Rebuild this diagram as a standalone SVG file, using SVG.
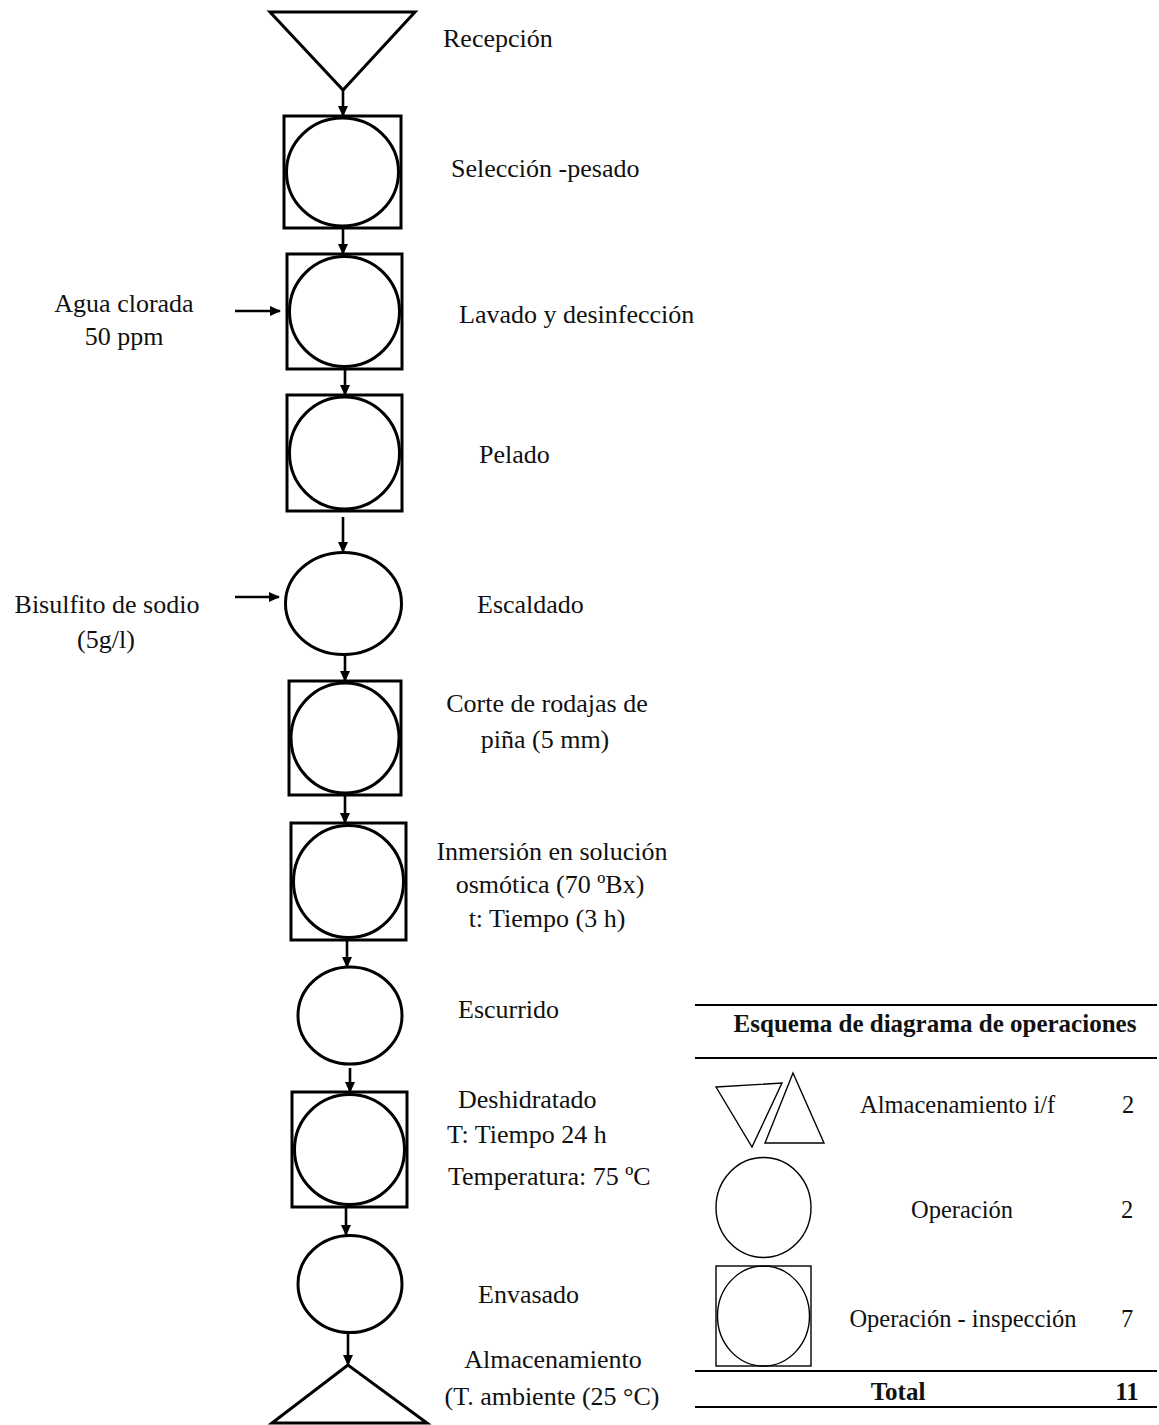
<svg xmlns="http://www.w3.org/2000/svg" width="1159" height="1425" viewBox="0 0 1159 1425">
<style>
.s{fill:#fff;stroke:#000;stroke-width:3}
.l{fill:none;stroke:#000;stroke-width:1.4}
.c{stroke:#000;stroke-width:2.6;fill:none}
.t{font-family:"Liberation Serif","Times New Roman",serif;font-size:26px;fill:#111}
.g{font-family:"Liberation Serif","Times New Roman",serif;font-size:24.5px;fill:#111}
.b{font-weight:bold;font-size:25px}
.m{text-anchor:middle}
</style>
<defs>
<marker id="ah" markerWidth="12" markerHeight="12" refX="10" refY="6" orient="auto" markerUnits="userSpaceOnUse">
<path d="M0,1 L11,6 L0,11 Z" fill="#000"/>
</marker>
</defs>
<rect width="1159" height="1425" fill="#fff"/>

<g id="connectors">
<line class="c" x1="343" y1="90" x2="343" y2="116" marker-end="url(#ah)"/>
<line class="c" x1="343" y1="228" x2="343" y2="254" marker-end="url(#ah)"/>
<line class="c" x1="345" y1="369" x2="345" y2="395" marker-end="url(#ah)"/>
<line class="c" x1="343" y1="517" x2="343" y2="552" marker-end="url(#ah)"/>
<line class="c" x1="345" y1="655" x2="345" y2="681" marker-end="url(#ah)"/>
<line class="c" x1="345" y1="795" x2="345" y2="823" marker-end="url(#ah)"/>
<line class="c" x1="347" y1="940" x2="347" y2="967" marker-end="url(#ah)"/>
<line class="c" x1="350" y1="1068" x2="350" y2="1092" marker-end="url(#ah)"/>
<line class="c" x1="346" y1="1208" x2="346" y2="1235" marker-end="url(#ah)"/>
<line class="c" x1="348" y1="1332" x2="348" y2="1365" marker-end="url(#ah)"/>
<line class="c" x1="235" y1="311" x2="280" y2="311" marker-end="url(#ah)"/>
<line class="c" x1="235" y1="597" x2="279" y2="597" marker-end="url(#ah)"/>
</g>

<g id="recepcion">
<polygon class="s" points="270,12 415,12 343,90"/>
<text class="t" x="443" y="47">Recepción</text>
</g>

<g id="seleccion">
<rect class="s" x="284" y="116" width="117" height="112"/>
<ellipse class="s" cx="342.5" cy="172" rx="56" ry="54"/>
<text class="t" x="451" y="177">Selección -pesado</text>
</g>

<g id="lavado">
<rect class="s" x="287" y="254" width="115" height="115"/>
<ellipse class="s" cx="344.5" cy="311.5" rx="55" ry="55"/>
<text class="t" x="459" y="323">Lavado y desinfección</text>
</g>

<g id="agua">
<text class="t m" x="124" y="312">Agua clorada</text>
<text class="t m" x="124" y="345">50 ppm</text>
</g>

<g id="pelado">
<rect class="s" x="287" y="395" width="115" height="116"/>
<ellipse class="s" cx="344.5" cy="453" rx="55" ry="56"/>
<text class="t" x="479" y="463">Pelado</text>
</g>

<g id="bisulfito">
<text class="t m" x="107" y="613">Bisulfito de sodio</text>
<text class="t m" x="106" y="648">(5g/l)</text>
</g>

<g id="escaldado">
<ellipse class="s" cx="343.5" cy="603.5" rx="58" ry="51"/>
<text class="t" x="477" y="613">Escaldado</text>
</g>

<g id="corte">
<rect class="s" x="289" y="681" width="112" height="114"/>
<ellipse class="s" cx="345" cy="738" rx="54" ry="55"/>
<text class="t m" x="547" y="712">Corte de rodajas de</text>
<text class="t m" x="545" y="748">piña (5 mm)</text>
</g>

<g id="inmersion">
<rect class="s" x="291" y="823" width="115" height="117"/>
<ellipse class="s" cx="348.5" cy="881.5" rx="55" ry="56"/>
<text class="t m" x="552" y="860">Inmersión en solución</text>
<text class="t m" x="550" y="893">osmótica (70 ºBx)</text>
<text class="t m" x="547" y="927">t: Tiempo (3 h)</text>
</g>

<g id="escurrido">
<ellipse class="s" cx="350" cy="1015.5" rx="52" ry="48.5"/>
<text class="t" x="458" y="1018">Escurrido</text>
</g>

<g id="deshidratado">
<rect class="s" x="292" y="1092" width="115" height="115"/>
<ellipse class="s" cx="349.5" cy="1149.5" rx="55" ry="55"/>
<text class="t" x="458" y="1108">Deshidratado</text>
<text class="t" x="447" y="1143">T: Tiempo 24 h</text>
<text class="t" x="448" y="1185">Temperatura: 75 ºC</text>
</g>

<g id="envasado">
<ellipse class="s" cx="350" cy="1284" rx="52" ry="48.5"/>
<text class="t" x="478" y="1303">Envasado</text>
</g>

<g id="almacenamiento">
<polygon class="s" points="348,1365 272,1423 427,1423"/>
<text class="t m" x="553" y="1368">Almacenamiento</text>
<text class="t m" x="552" y="1405">(T. ambiente (25 °C)</text>
</g>

<g id="legend">
<line x1="695" y1="1005" x2="1157" y2="1005" stroke="#000" stroke-width="2"/>
<text class="g b m" x="935" y="1032">Esquema de diagrama de operaciones</text>
<line x1="695" y1="1058" x2="1157" y2="1058" stroke="#000" stroke-width="2"/>
<polygon class="l" points="716,1087 782,1083 752,1147"/>
<polygon class="l" points="793,1073 765,1143 824,1143"/>
<text class="g" x="860" y="1113">Almacenamiento i/f</text>
<text class="g m" x="1128" y="1113">2</text>
<ellipse class="l" cx="763.5" cy="1207.5" rx="47.5" ry="50"/>
<text class="g m" x="962" y="1218">Operación</text>
<text class="g m" x="1127" y="1218">2</text>
<rect class="l" x="716" y="1266" width="95" height="100"/>
<ellipse class="l" cx="763.5" cy="1316" rx="46" ry="50"/>
<text class="g m" x="963" y="1327">Operación - inspección</text>
<text class="g m" x="1127" y="1327">7</text>
<line x1="695" y1="1371" x2="1157" y2="1371" stroke="#000" stroke-width="2"/>
<text class="g b m" x="898" y="1400">Total</text>
<text class="g b m" x="1127" y="1400">11</text>
<line x1="695" y1="1407" x2="1157" y2="1407" stroke="#000" stroke-width="2"/>
</g>
</svg>
